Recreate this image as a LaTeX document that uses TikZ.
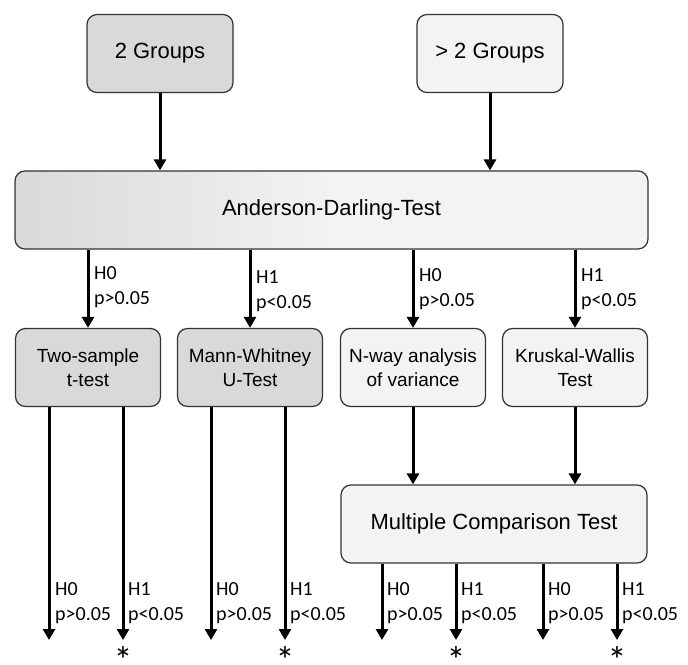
\documentclass[tikz,border=0pt]{standalone}
\usepackage{fontspec}
\setmainfont{Liberation Sans}
\newfontfamily\labfont{Carlito}
\usetikzlibrary{arrows.meta}
\definecolor{gdark}{HTML}{D9D9D9}
\definecolor{glight}{HTML}{F3F3F3}
\definecolor{edgec}{HTML}{333333}
\begin{document}
\begin{tikzpicture}[x=1pt,y=-1pt,
  box/.style={draw=edgec, line width=1.2pt, rounded corners=10pt, inner sep=0pt, align=center},
  bigbox/.style={box, font=\fontsize{22}{26}\selectfont, minimum height=78pt},
  midbox/.style={box, font=\fontsize{19}{24}\selectfont, minimum width=145pt, minimum height=78pt},
  arr/.style={line width=3pt, -{Triangle[length=11pt,width=12pt]}},
  lab/.style={font=\labfont\fontsize{20}{25}\selectfont, align=left, anchor=north west, inner sep=0pt},
  star/.style={font=\labfont\fontsize{38}{38}\selectfont, anchor=base, inner sep=0pt},
]
\useasboundingbox (0,0) rectangle (688,664);
\fill[white] (0,0) rectangle (688,664);

% top
\node[bigbox, fill=gdark, minimum width=146pt] (g2) at (160,53.5) {2 Groups};
\node[bigbox, fill=glight, minimum width=146pt] (g3) at (490,53.5) {> 2 Groups};

% Anderson-Darling
\node[bigbox, left color=gdark, right color=glight, middle color=glight, minimum width=633pt] (ad) at (331.5,210) {Anderson-Darling-Test};

% middle row
\node[midbox, fill=gdark] (b1) at (88,367.5) {Two-sample\\t-test};
\node[midbox, fill=gdark] (b2) at (250,367.5) {Mann-Whitney\\U-Test};
\node[midbox, fill=glight] (b3) at (413,367.5) {N-way analysis\\of variance};
\node[midbox, fill=glight] (b4) at (575,367.5) {Kruskal-Wallis\\Test};

% multiple comparison
\node[bigbox, fill=glight, minimum width=306pt] (mct) at (494,524) {Multiple Comparison Test};

% arrows top
\draw[arr] (g2.south) -- (g2.south |- ad.north);
\draw[arr] (g3.south) -- (g3.south |- ad.north);

% arrows AD -> middle
\draw[arr] (ad.south -| b1.north) -- (b1.north);
\draw[arr] (ad.south -| b2.north) -- (b2.north);
\draw[arr] (ad.south -| b3.north) -- (b3.north);
\draw[arr] (ad.south -| b4.north) -- (b4.north);

\node[lab] (la1) at (94,266) {H0\\p>0.05};
\node[lab] (la2) at (256,270) {H1\\p<0.05};
\node[lab] (la3) at (419,268) {H0\\p>0.05};
\node[lab] (la4) at (581,268) {H1\\p<0.05};

% arrows to MCT
\draw[arr] (b3.south) -- (b3.south |- mct.north);
\draw[arr] (b4.south) -- (b4.south |- mct.north);

% bottom ends
\coordinate (e1) at (49,640);
\coordinate (e2) at (123,640);
\coordinate (e3) at (211,640);
\coordinate (e4) at (285,640);
\coordinate (e5) at (382,640);
\coordinate (e6) at (456,640);
\coordinate (e7) at (543,640);
\coordinate (e8) at (617,640);

\draw[arr] (b1.south -| e1) -- (e1);
\draw[arr] (b1.south -| e2) -- (e2);
\draw[arr] (b2.south -| e3) -- (e3);
\draw[arr] (b2.south -| e4) -- (e4);
\draw[arr] (mct.south -| e5) -- (e5);
\draw[arr] (mct.south -| e6) -- (e6);
\draw[arr] (mct.south -| e7) -- (e7);
\draw[arr] (mct.south -| e8) -- (e8);

\node[lab] (lb1) at (55,582) {H0\\p>0.05};
\node[lab] (lb2) at (128,582) {H1\\p<0.05};
\node[lab] (lb3) at (216,582) {H0\\p>0.05};
\node[lab] (lb4) at (290,582) {H1\\p<0.05};
\node[lab] (lb5) at (387,582) {H0\\p>0.05};
\node[lab] (lb6) at (461,582) {H1\\p<0.05};
\node[lab] (lb7) at (548,582) {H0\\p>0.05};
\node[lab] (lb8) at (622,582) {H1\\p<0.05};

% asterisks
\node[star] (s1) at ([yshift=-33pt]e2) {*};
\node[star] (s2) at ([yshift=-33pt]e4) {*};
\node[star] (s3) at ([yshift=-33pt]e6) {*};
\node[star] (s4) at ([yshift=-33pt]e8) {*};
\end{tikzpicture}
\end{document}
